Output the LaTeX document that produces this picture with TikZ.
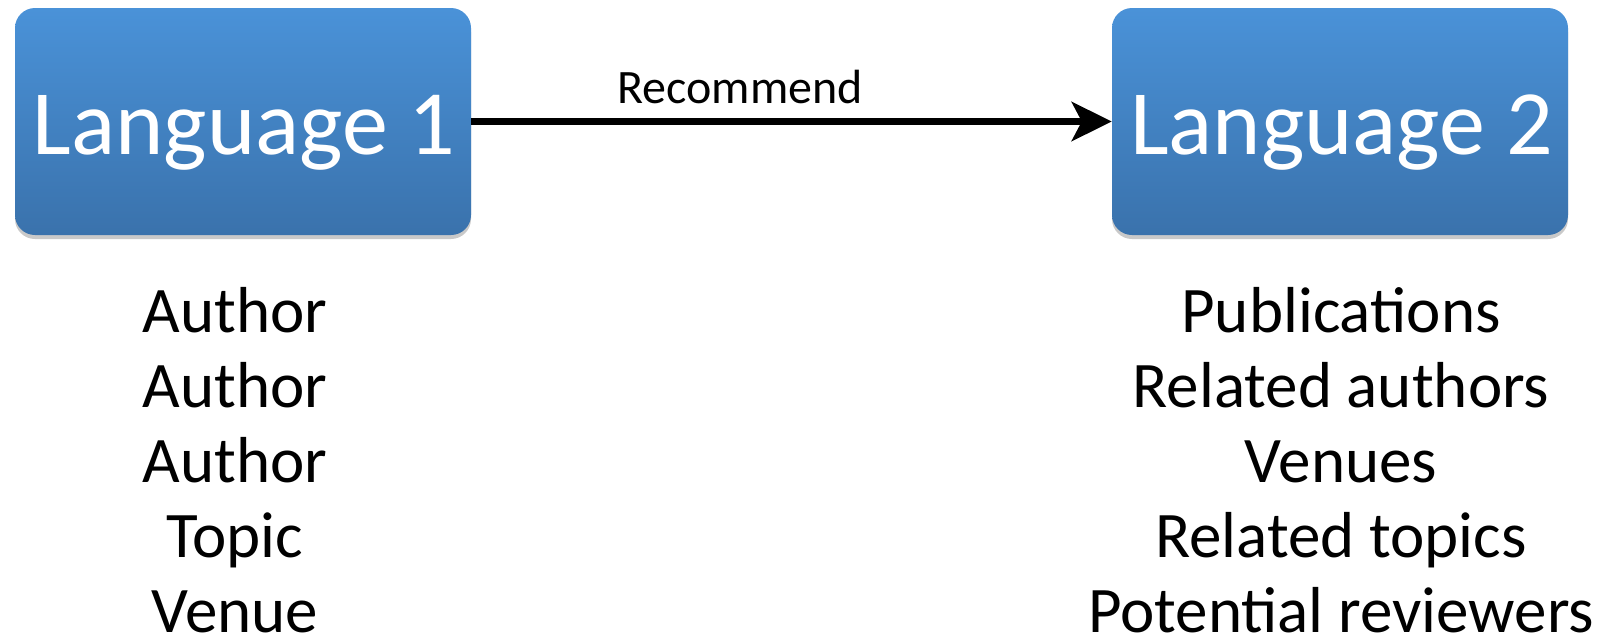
\documentclass[tikz,border=0pt]{standalone}
\usepackage{fontspec}
\setmainfont{Carlito}
\usetikzlibrary{arrows.meta,shadows}
\definecolor{boxtop}{RGB}{74,146,216}
\definecolor{boxbot}{RGB}{58,114,172}
\tikzset{
  langbox/.style={rectangle, rounded corners=20pt, minimum width=456pt, minimum height=227pt,
    top color=boxtop, bottom color=boxbot, draw=none,
    drop shadow={shadow xshift=0pt, shadow yshift=-4pt, opacity=0.3, fill=black!70}},
  langtext/.style={anchor=base, text=white, font=\fontsize{92}{100}\selectfont, inner sep=0pt},
  itemtext/.style={anchor=base, text=black, font=\fontsize{65}{75}\selectfont, inner sep=0pt},
  arrowlab/.style={anchor=base, text=black, font=\fontsize{48}{56}\selectfont, inner sep=0pt},
  recarrow/.style={line width=7pt, -{Stealth[length=40pt, width=39pt, inset=10pt]}}
}
\begin{document}
\begin{tikzpicture}[x=1pt,y=-1pt]
\useasboundingbox (0,0) rectangle (1613,641);
\node[langbox] (b1) at (243,121.5) {};
\node[langbox] (b2) at (1340,121.5) {};
\node[langtext] (t1) at (244,154) {Language 1};
\node[langtext] (t2) at (1341.5,154) {Language 2};
\draw[recarrow] (b1.east) -- (b2.west);
\node[arrowlab] (rec) at (740,103) {Recommend};
\node[itemtext] (l1) at (235,332) {Author};
\node[itemtext] (l2) at (235,407) {Author};
\node[itemtext] (l3) at (235,482) {Author};
\node[itemtext] (l4) at (235,557) {Topic};
\node[itemtext] (l5) at (235,632) {Venue};
\node[itemtext] (r1) at (1341,332) {Publications};
\node[itemtext] (r2) at (1341,407) {Related authors};
\node[itemtext] (r3) at (1341,482) {Venues};
\node[itemtext] (r4) at (1341,557) {Related topics};
\node[itemtext] (r5) at (1341,632) {Potential reviewers};
\end{tikzpicture}
\end{document}
